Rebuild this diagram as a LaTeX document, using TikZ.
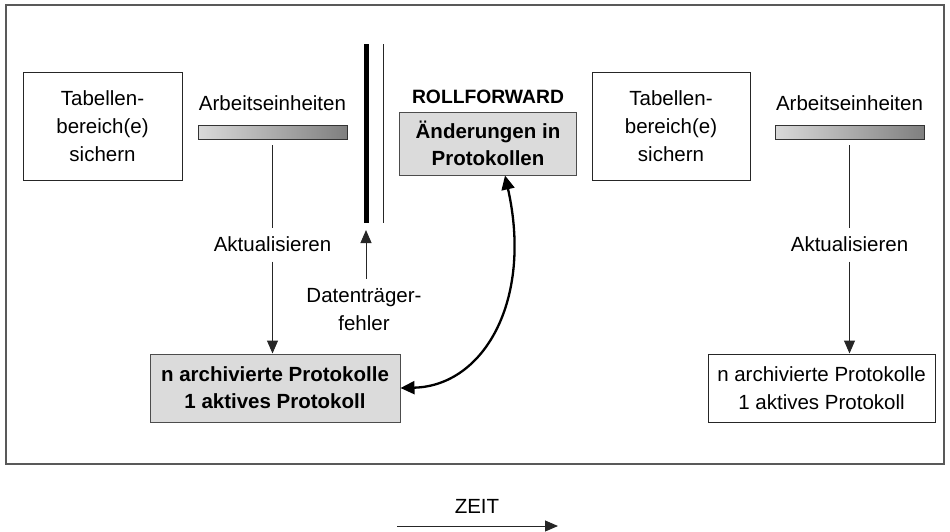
\documentclass[tikz,border=0pt]{standalone}
\usepackage{fontspec}
\setmainfont{Liberation Sans}
\usetikzlibrary{arrows.meta}
\begin{document}
\begin{tikzpicture}[x=1pt,y=-1pt,
  every node/.style={font=\fontsize{20.5}{28}\selectfont, align=center, inner sep=0pt},
  boxw/.style={draw=black!85, line width=1pt, fill=white},
  boxg/.style={draw=black!70, line width=1pt, fill=black!14,
               font=\fontsize{20.5}{27}\selectfont\bfseries},
  workbar/.style={draw=black!80, line width=0.9pt, minimum width=149pt,
                  minimum height=14pt, left color=black!15, right color=black!50},
  conn/.style={draw=black!85, line width=1pt},
  arrowed/.style={conn, -{Triangle[length=13pt,width=11pt]}},
  bigarrow/.style={draw=black, line width=2.3pt,
                   {Triangle[length=14pt,width=13pt]}-{Triangle[length=14pt,width=13pt]}},
]
\useasboundingbox (0,0) rectangle (950,531);

% outer frame
\draw[black!65, line width=1.4pt] (6,5) rectangle (944,464);

% left cycle
\node[boxw, minimum width=159pt, minimum height=108pt] (lsave) at (102.5,126)
  {Tabellen-\\bereich(e)\\sichern};
\node (lunits) at (272.5,103) {Arbeitseinheiten};
\node[workbar] (lbar) at (272.5,132) {};
\node (lupd) at (272.5,244) {Aktualisieren};
\node[boxg, minimum width=250pt, minimum height=68pt] (llogs) at (275,388)
  {n archivierte Protokolle\\1 aktives Protokoll};
\draw[conn] ([yshift=-6pt]lbar.south) -- ([yshift=8pt]lupd.north);
\draw[arrowed] ([yshift=-10pt]lupd.south) -- (llogs.north-|lupd);

% media failure
\coordinate (failtop) at (366,44);
\coordinate (failbot) at (366,223);
\draw[black, line width=5pt] (failtop) -- (failbot);
\draw[conn] (383,44) -- (383,223);
\node (fail) at (364,310) {Datenträger-\\fehler};
\draw[arrowed] ([yshift=10pt]fail.north-|failbot) -- ([yshift=-7pt]failbot);

% roll forward
\node[font=\fontsize{19.3}{23}\selectfont\bfseries] (rf) at (488,97) {ROLLFORWARD};
\node[boxg, minimum width=177pt, minimum height=63pt] (changes) at (488,143.5)
  {Änderungen in\\Protokollen};
\draw[bigarrow] ([xshift=17pt]changes.south) .. controls (533,300) and (484,386) .. (llogs.east);

% right cycle
\node[boxw, minimum width=158pt, minimum height=108pt] (rsave) at (671,126)
  {Tabellen-\\bereich(e)\\sichern};
\node (runits) at (849.5,103) {Arbeitseinheiten};
\node[workbar] (rbar) at (849.5,132) {};
\node (rupd) at (849.5,244) {Aktualisieren};
\node[boxw, minimum width=227pt, minimum height=68pt] (rlogs) at (821.5,388)
  {n archivierte Protokolle\\1 aktives Protokoll};
\draw[conn] ([yshift=-6pt]rbar.south) -- ([yshift=8pt]rupd.north);
\draw[arrowed] ([yshift=-10pt]rupd.south) -- (rlogs.north-|rupd);

% time axis
\node (time) at (477,506) {ZEIT};
\coordinate (tstart) at (397,526);
\coordinate (tend) at (558,526);
\draw[arrowed] (tstart) -- (tend);
\end{tikzpicture}
\end{document}
